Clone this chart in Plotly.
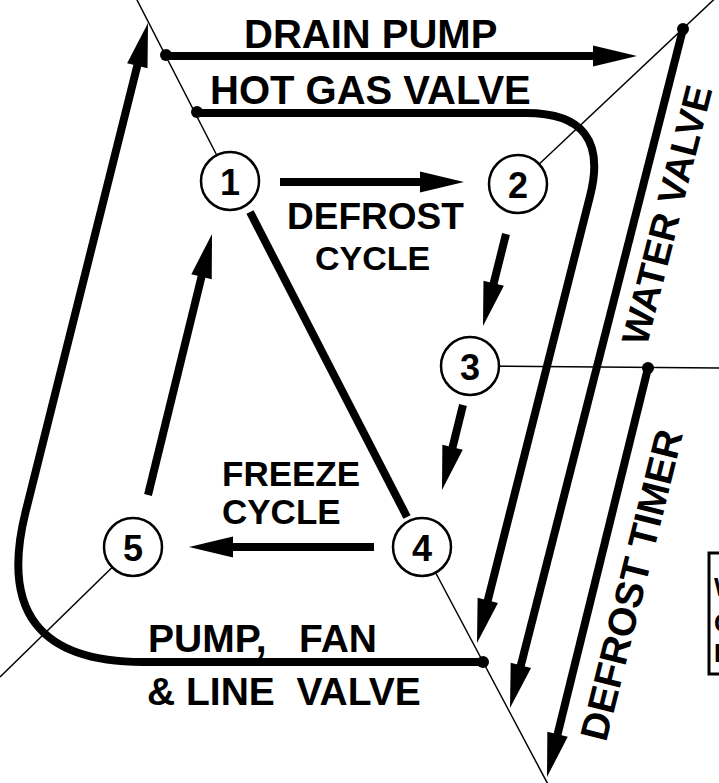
import math
import plotly.graph_objects as go

# ---------------- data ----------------
node_labels = ["1", "2", "3", "4", "5"]
node_x = [230, 518, 470, 422, 133]
node_y = [181, 184, 366, 547, 547]
node_r = 29

# thin lead lines from each node outward
lead_end_x = [137, 724, 719, 551, 0]
lead_end_y = [0, -10, 368, 790, 677]

# junction dots
dot_x = [166, 197, 683, 648, 483]
dot_y = [55, 112, 29, 368, 662]

# heavy control lines: start, (optional corner), tip
drain_x = [166, 637]
drain_y = [56, 56]
hotgas_x = [197, 611, 477]
hotgas_y = [113, 113, 643]
water_x = [683, 510]
water_y = [29, 708]
timer_x = [648, 547]
timer_y = [368, 777]
pumpfan_x = [483, -12, 148]
pumpfan_y = [662, 662, 23]
link14_x = [250, 407]
link14_y = [212, 517]

# cycle arrows (start -> tip)
cyc_x0 = [280, 506, 463, 374, 148]
cyc_y0 = [182, 234, 405, 547, 495]
cyc_x1 = [464, 483, 442, 189, 212]
cyc_y1 = [182, 326, 490, 547, 234]

NB = "\u00a0"
# labels: text, x, y, angle, size, anchor
labels = [
    ("DRAIN PUMP", 370, 34, 0, 40, "center"),
    ("HOT GAS VALVE", 370, 90, 0, 40, "center"),
    ("DEFROST", 375, 216, 0, 37, "center"),
    ("CYCLE", 372, 258, 0, 34, "center"),
    ("FREEZE", 220, 473, 0, 35, "left"),
    ("CYCLE", 220, 511, 0, 35, "left"),
    ("PUMP," + NB + NB + " FAN", 146, 638, 0, 39, "left"),
    ("&amp; LINE" + NB + " VALVE", 145, 691, 0, 39, "left"),
    ("WATER VALVE", 667, 215, -75.7, 38, "center"),
    ("DEFROST TIMER", 631, 585, -76, 39, "center"),
]
box_lines = ["W", "C", "E"]
box_line_y = [587, 623, 653]

FONT = "Liberation Sans, Arial, Helvetica, sans-serif"
W_THICK = 8
W_THIN = 1.5
HEAD_L = 44
HEAD_W = 21

shapes = []


def unit(ax, ay, bx, by):
    dx, dy = bx - ax, by - ay
    d = math.hypot(dx, dy)
    return dx / d, dy / d


def head(tipx, tipy, ux, uy, L=HEAD_L, Wd=HEAD_W):
    bx, by = tipx - ux * L, tipy - uy * L
    px, py = -uy * Wd / 2, ux * Wd / 2
    shapes.append(dict(type="path",
                       path=f"M {tipx},{tipy} L {bx+px},{by+py} L {bx-px},{by-py} Z",
                       fillcolor="black", line=dict(width=0), layer="above"))


def straight_arrow(x0, y0, x1, y1, arrow=True, width=W_THICK):
    ux, uy = unit(x0, y0, x1, y1)
    ex, ey = (x1 - ux * (HEAD_L - 4), y1 - uy * (HEAD_L - 4)) if arrow else (x1, y1)
    shapes.append(dict(type="line", x0=x0, y0=y0, x1=ex, y1=ey,
                       line=dict(color="black", width=width), layer="above"))
    if arrow:
        head(x1, y1, ux, uy)


def rounded_arrow(xs, ys, tan_len):
    (x0, y0), (cx, cy), (x1, y1) = zip(xs, ys)
    u1 = unit(x0, y0, cx, cy)
    u2 = unit(cx, cy, x1, y1)
    ax, ay = cx - u1[0] * tan_len, cy - u1[1] * tan_len
    bx, by = cx + u2[0] * tan_len, cy + u2[1] * tan_len
    ex, ey = x1 - u2[0] * (HEAD_L - 4), y1 - u2[1] * (HEAD_L - 4)
    shapes.append(dict(type="path",
                       path=f"M {x0},{y0} L {ax},{ay} Q {cx},{cy} {bx},{by} L {ex},{ey}",
                       line=dict(color="black", width=W_THICK), layer="above"))
    head(x1, y1, *u2)


# thin lead lines
for i in range(5):
    shapes.append(dict(type="line", x0=node_x[i], y0=node_y[i],
                       x1=lead_end_x[i], y1=lead_end_y[i],
                       line=dict(color="black", width=W_THIN), layer="above"))

# heavy lines
straight_arrow(drain_x[0], drain_y[0], drain_x[1], drain_y[1])
rounded_arrow(hotgas_x, hotgas_y, 85)
straight_arrow(water_x[0], water_y[0], water_x[1], water_y[1])
straight_arrow(timer_x[0], timer_y[0], timer_x[1], timer_y[1])
rounded_arrow(pumpfan_x, pumpfan_y, 155)
straight_arrow(link14_x[0], link14_y[0], link14_x[1], link14_y[1], arrow=False)

for i in range(5):
    straight_arrow(cyc_x0[i], cyc_y0[i], cyc_x1[i], cyc_y1[i])

# junction dots
for x, y in zip(dot_x, dot_y):
    shapes.append(dict(type="circle", x0=x - 6, x1=x + 6, y0=y - 6, y1=y + 6,
                       fillcolor="black", line=dict(width=0), layer="above"))

# node circles
for x, y in zip(node_x, node_y):
    shapes.append(dict(type="circle", x0=x - node_r, x1=x + node_r,
                       y0=y - node_r, y1=y + node_r,
                       fillcolor="white", line=dict(color="black", width=2.5),
                       layer="above"))

# partial box at the right edge
shapes.append(dict(type="rect", x0=709, x1=730, y0=553, y1=674,
                   line=dict(color="black", width=3), layer="above"))

annotations = []
for lab, x, y in zip(node_labels, node_x, node_y):
    annotations.append(dict(x=x, y=y + 1, text=f"<b>{lab}</b>", showarrow=False,
                            font=dict(family=FONT, size=36, color="black"),
                            xanchor="center", yanchor="middle"))
for text, x, y, ang, size, anc in labels:
    annotations.append(dict(x=x, y=y, text=f"<b>{text}</b>", showarrow=False,
                            textangle=ang,
                            font=dict(family=FONT, size=size, color="black"),
                            xanchor=anc, yanchor="middle"))
for t, y in zip(box_lines, box_line_y):
    annotations.append(dict(x=712, y=y, text=f"<b>{t}</b>", showarrow=False,
                            font=dict(family=FONT, size=25, color="black"),
                            xanchor="left", yanchor="middle"))

fig = go.Figure()
fig.add_trace(go.Scatter(x=[0], y=[0], mode="markers",
                         marker=dict(size=1, color="white", opacity=0),
                         hoverinfo="skip", showlegend=False))
fig.update_layout(
    width=719, height=783,
    margin=dict(l=0, r=0, t=0, b=0),
    paper_bgcolor="white", plot_bgcolor="white",
    xaxis=dict(range=[0, 719], visible=False, fixedrange=True),
    yaxis=dict(range=[783, 0], visible=False, fixedrange=True),
    shapes=shapes, annotations=annotations,
    showlegend=False, hovermode=False,
)
fig.write_html("out.html", config={"displayModeBar": False, "staticPlot": True},
               post_script="document.body.style.margin='0';document.body.style.padding='0';")
